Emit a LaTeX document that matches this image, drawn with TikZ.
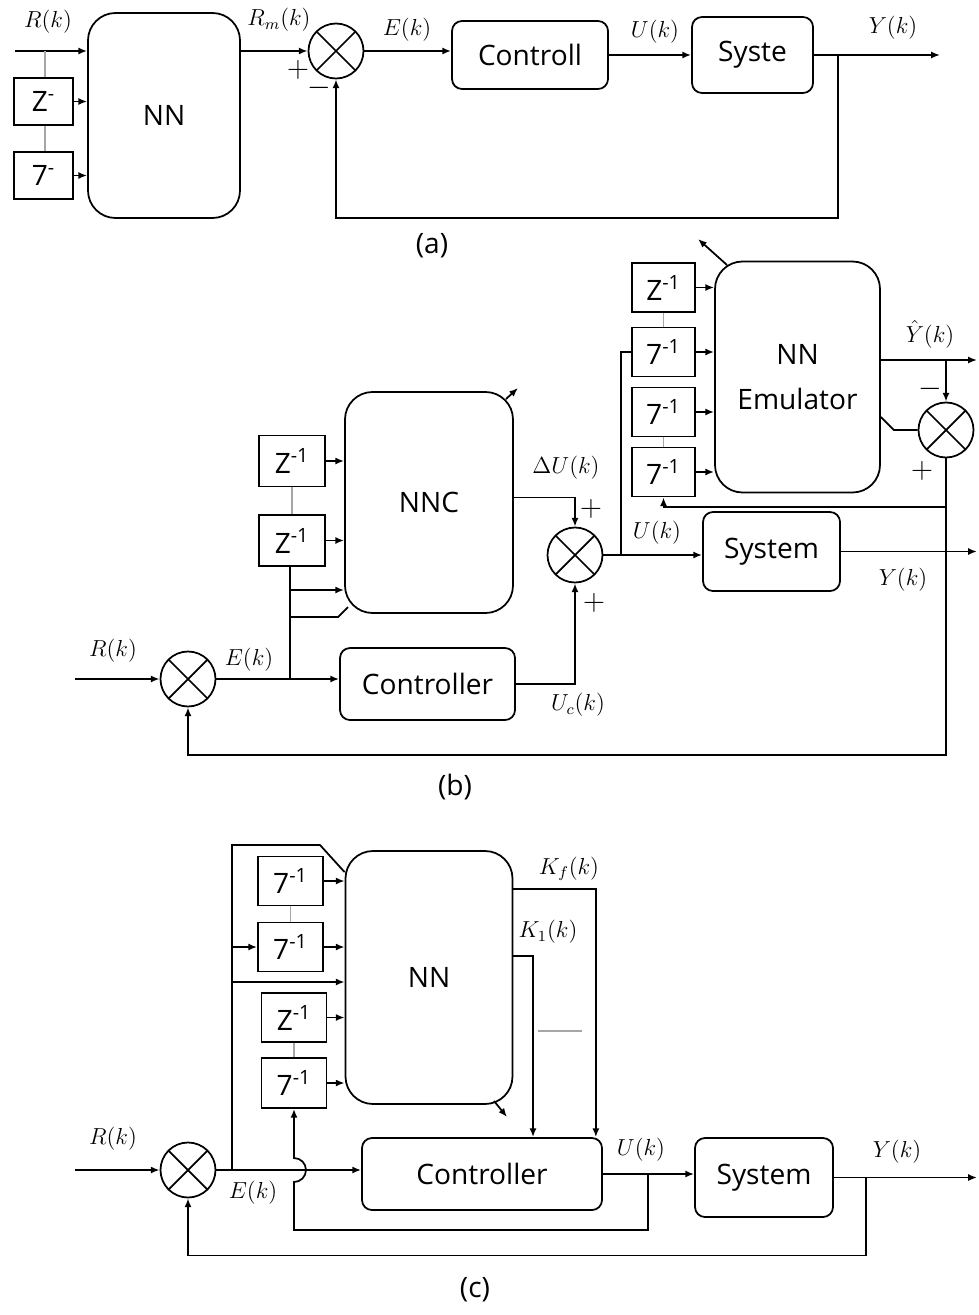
\documentclass[tikz,border=0pt]{standalone}
\usepackage{fontspec}
\setmainfont{Open Sans}
\usetikzlibrary{arrows.meta}
\newcommand{\pxu}{0.02cm}

\begin{document}
\begin{tikzpicture}[
  x=0.02cm,y=-0.02cm,line width=1pt,
  every node/.style={font=\fontsize{16}{19}\selectfont},
  >={Latex[length=5pt,width=4pt]},
  block/.style={draw,rounded corners=0.2cm,inner sep=2pt},
  nnbox/.style={draw,rounded corners=0.55cm,align=center},
  delay/.style={draw,inner sep=0pt,minimum width=63*\pxu,minimum height=49*\pxu},
  sumj/.style={draw,circle,minimum size=55*\pxu,inner sep=0pt,
    path picture={\draw (path picture bounding box.south west) -- (path picture bounding box.north east)
      (path picture bounding box.north west) -- (path picture bounding box.south east);}},
  sig/.style={font=\fontsize{12}{14}\selectfont,inner sep=1pt,scale=1.1},
  sgn/.style={inner sep=0pt},
  tap/.style={draw=gray!70,line width=0.8pt}
]
  \useasboundingbox (0,0) rectangle (979,1315);

  \node[nnbox,minimum width=152*\pxu,minimum height=205*\pxu] (nna) at (164,115.5) {NN};
  \node[delay,minimum width=59*\pxu,minimum height=47*\pxu] (za1) at (43.5,101.5) {Z\textsuperscript{-}};
  \node[delay,minimum width=59*\pxu,minimum height=47*\pxu] (za2) at (43.5,175.5) {7\textsuperscript{-}};
  \node[sumj] (suma) at (336,51) {};
  \node[block,minimum width=156*\pxu,minimum height=68*\pxu] (ctrla) at (530,55) {Controll};
  \node[block,minimum width=121*\pxu,minimum height=76*\pxu] (sysa) at (752.5,55) {Syste};
  \coordinate (ina) at (15,51);
  \coordinate (tapa) at (45,51);
  \coordinate (outa) at (940,55);
  \coordinate (tapya) at (838,55);
  \coordinate (fba) at (838,218);
  \draw[->] (ina) -- (ina -| nna.west);
  \draw[tap] (tapa) -- (tapa |- za1.north);
  \draw[tap] (za1.south -| tapa) -- (za2.north -| tapa);
  \draw[->] (za1.east) -- (za1.east -| nna.west);
  \draw[->] (za2.east) -- (za2.east -| nna.west);
  \draw[->] (nna.east |- suma) -- (suma.west);
  \draw[->] (suma.east) -- (suma.east -| ctrla.west);
  \draw[->] (ctrla.east) -- (ctrla.east -| sysa.west);
  \draw[->] (sysa.east) -- (outa);
  \draw[->] (tapya) -- (fba) -| (suma.south);
  \node[sig] (lra) at (48,22) {$R(k)$};
  \node[sig] (lrm) at (279,20) {$R_m(k)$};
  \node[sig] (lea) at (407,30) {$E(k)$};
  \node[sig] (lua) at (655,32) {$U(k)$};
  \node[sig] (lya) at (893,28) {$Y(k)$};
  \node[sgn] (pa) at (298,70) {$+$};
  \node[sgn] (ma) at (319,88) {$-$};
  \node (capa) at (432,246) {(a)};

  \node[nnbox,minimum width=165*\pxu,minimum height=231*\pxu] (emu) at (797.5,377) {NN\\[7pt]Emulator};
  \node[delay] (ze1) at (663.5,287.5) {Z\textsuperscript{-1}};
  \node[delay] (ze2) at (663.5,352) {7\textsuperscript{-1}};
  \node[delay] (ze3) at (663.5,412) {7\textsuperscript{-1}};
  \node[delay] (ze4) at (663.5,472) {7\textsuperscript{-1}};
  \node[sumj] (sumb3) at (946,430) {};
  \node[block,minimum width=137*\pxu,minimum height=79*\pxu] (sysb) at (771.5,551.5) {System};
  \node[sumj] (sumb2) at (575,555) {};
  \node[nnbox,minimum width=168*\pxu,minimum height=221*\pxu] (nnc) at (429,502.5) {NNC};
  \node[delay,minimum width=66*\pxu,minimum height=51*\pxu] (zb1) at (292,461) {Z\textsuperscript{-1}};
  \node[delay,minimum width=66*\pxu,minimum height=51*\pxu] (zb2) at (292,540.5) {Z\textsuperscript{-1}};
  \node[sumj] (sumb1) at (188,679) {};
  \node[block,minimum width=175*\pxu,minimum height=72*\pxu] (ctrlb) at (427.5,684) {Controller};
  \coordinate (emul) at (727,265);
  \coordinate (emult) at (698,239);
  \coordinate (yhat) at (977,360);
  \coordinate (emuo) at ([yshift=-40*\pxu]emu.east);
  \coordinate (tapb) at (946,507);
  \coordinate (fbb) at (946,755);
  \coordinate (tapu) at (621,555);
  \coordinate (outb) at (977,552);
  \coordinate (nncl) at (506,399);
  \coordinate (nnclt) at (518,388);
  \coordinate (inb) at (75,679);
  \coordinate (tape) at (290,679);
  \coordinate (tapn1) at (290,590);
  \coordinate (tapn2) at (290,617);
  \draw[->] (emul) -- (emult);
  \foreach \i in {1,...,4} \draw[->] (ze\i.east) -- (ze\i.east -| emu.west);
  \draw[tap] (ze1.south) -- (ze2.north);
  \draw[tap] (ze3.south) -- (ze4.north);
  \draw[->] (emu.east |- yhat) -- (yhat);
  \draw[->] (sumb3 |- yhat) -- (sumb3.north);
  \draw (emuo) -- ++(13,13) -- (sumb3.west);
  \draw[->] (sumb3.south) -- (fbb) -| (sumb1.south);
  \draw[->] (tapb) -| (ze4.south);
  \draw[->] (sumb2.east) -- (sumb2.east -| sysb.west);
  \draw[->] (sysb.east) -- (sysb.east -| outb);
  \draw (tapu) |- (ze2.west);
  \draw[->] (nncl) -- (nnclt);
  \foreach \i in {1,2} \draw[->] (zb\i.east) -- (zb\i.east -| nnc.west);
  \draw[tap] (zb1.south) -- (zb2.north);
  \draw[->] (inb) -- (sumb1.west);
  \draw[->] (sumb1.east) -- (sumb1.east -| ctrlb.west);
  \draw (tape) -- (tape |- zb2.south);
  \draw[->] (tapn1) -- (tapn1 -| nnc.west);
  \draw (tapn2) -- ++(48,0) -- ++(10,-10);
  \draw[->] ([yshift=5*\pxu]nnc.east) -| (sumb2.north);
  \draw[->] (ctrlb.east) -| (sumb2.south);
  \node[sig] (lyh) at (930,334) {$\hat{Y}(k)$};
  \node[sgn] (mb3) at (930,389) {$-$};
  \node[sgn] (pb3) at (922,471) {$+$};
  \node[sig] (lub) at (657,533) {$U(k)$};
  \node[sig] (lyb) at (903,580) {$Y(k)$};
  \node[sig] (ldu) at (566,468) {$\Delta U(k)$};
  \node[sgn] (pb2a) at (591,509) {$+$};
  \node[sgn] (pb2b) at (594,603) {$+$};
  \node[sig] (luc) at (578,705) {$U_c(k)$};
  \node[sig] (lrb) at (113,651) {$R(k)$};
  \node[sig] (leb) at (249,660) {$E(k)$};
  \node (capb) at (455,787) {(b)};

  \node[nnbox,minimum width=167*\pxu,minimum height=253*\pxu] (nnk) at (429,977.5) {NN};
  \node[delay,minimum width=65*\pxu] (zc1) at (290.5,881) {7\textsuperscript{-1}};
  \node[delay,minimum width=65*\pxu] (zc2) at (290.5,947) {7\textsuperscript{-1}};
  \node[delay,minimum width=65*\pxu] (zc3) at (294,1017.5) {Z\textsuperscript{-1}};
  \node[delay,minimum width=65*\pxu,minimum height=50*\pxu] (zc4) at (294,1083) {7\textsuperscript{-1}};
  \node[sumj] (sumc) at (188,1170) {};
  \node[block,minimum width=240*\pxu,minimum height=72*\pxu] (ctrlc) at (482,1174) {Controller};
  \node[block,minimum width=138*\pxu,minimum height=79*\pxu] (sysc) at (764,1177.5) {System};
  \coordinate (inc) at (75,1170);
  \coordinate (tapc) at (232,1170);
  \coordinate (tapz) at (232,947);
  \coordinate (tapd) at (232,982);
  \coordinate (hop) at (zc4 |- sumc);
  \coordinate (tapk) at (648,1174);
  \coordinate (tapy) at (866,1177.5);
  \coordinate (outc) at (977,1177.5);
  \coordinate (nnkl) at (494,1101);
  \coordinate (nnklt) at (507,1117);
  \coordinate (dots) at (560,1031);
  \draw[->] (inc) -- (sumc.west);
  \draw[->] (sumc.east) -- (sumc.east -| ctrlc.west);
  \draw (tapc) -- ++(0,-325) -- ++(88,0) -- ([yshift=-22*\pxu]nnk.north west);
  \draw[->] (tapz) -- (zc2.west);
  \draw[->] (tapd) -- (tapd -| nnk.west);
  \foreach \i in {1,...,4} \draw[->] (zc\i.east) -- (zc\i.east -| nnk.west);
  \draw[tap] (zc1.south) -- (zc2.north);
  \draw[tap] (zc3.south) -- (zc4.north);
  \draw[->] ([yshift=-39*\pxu]nnk.north east) -| ([xshift=-7*\pxu]ctrlc.north east);
  \draw[->] ([yshift=-106*\pxu]nnk.north east) -| ([xshift=51*\pxu]ctrlc.north);
  \draw[tap] ([xshift=-22*\pxu]dots) -- ([xshift=22*\pxu]dots);
  \draw[->] (nnkl) -- (nnklt);
  \draw[->] (ctrlc.east) -- (ctrlc.east -| sysc.west);
  \draw[->] (sysc.east) -- (outc);
  \draw[->] (tapk) -- ++(0,56) -| ([yshift=-12*\pxu]hop)
    arc[start angle=-90,end angle=90,radius=12*\pxu] -- (zc4.south);
  \draw[->] (tapy) -- ++(0,78) -| (sumc.south);
  \node[sig] (lkf) at (569,869) {$K_f(k)$};
  \node[sig] (lk1) at (548,932) {$K_1(k)$};
  \node[sig] (lrc) at (113,1139) {$R(k)$};
  \node[sig] (lec) at (253,1193) {$E(k)$};
  \node[sig] (luk) at (641,1150) {$U(k)$};
  \node[sig] (lyc) at (897,1152) {$Y(k)$};
  \node (capc) at (475,1290) {(c)};
\end{tikzpicture}
\end{document}
